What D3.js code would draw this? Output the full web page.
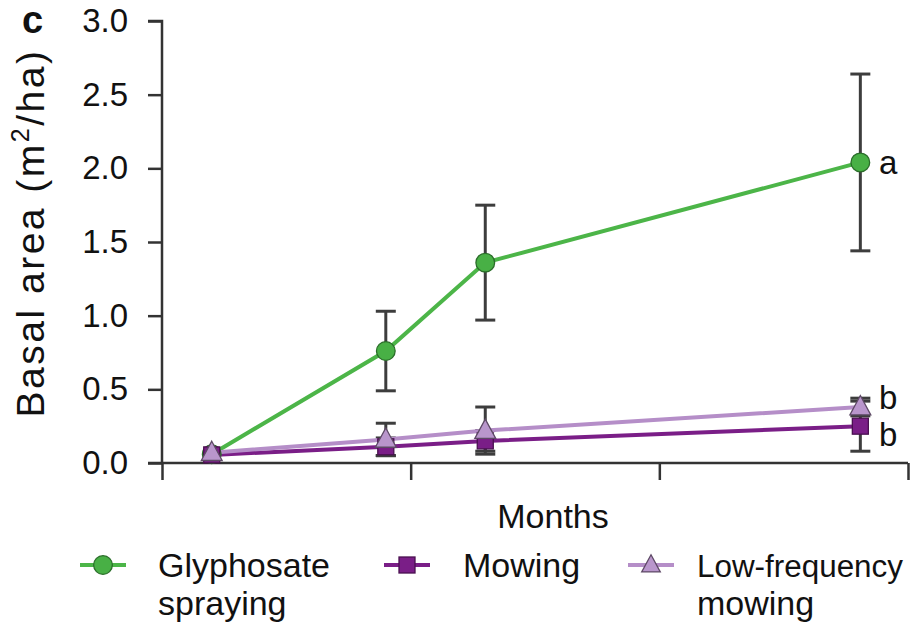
<!DOCTYPE html>
<html><head><meta charset="utf-8">
<script src="https://cdn.jsdelivr.net/npm/d3@7"></script>
<style>body{margin:0;background:#fff}svg{display:block}text{font-family:"Liberation Sans",Arial,sans-serif;fill:#111}</style>
</head><body><svg id="c" width="912" height="626"></svg>
<script>
const months = [2.4, 10.8, 15.6, 33.7];
const glyphosate = [0.06, 0.76, 1.36, 2.04];
const glyphosateErr = [0.0, 0.27, 0.39, 0.60];
const mowing = [0.055, 0.11, 0.15, 0.25];
const mowingErr = [0.0, 0.06, 0.07, 0.17];
const lowFreq = [0.07, 0.16, 0.22, 0.38];
const lowFreqErr = [0.0, 0.11, 0.16, 0.06];
const yTicks = [0, 0.5, 1.0, 1.5, 2.0, 2.5, 3.0];
const xTicks = [0, 12, 24, 36];
const letters = [{s:"glyphosate", t:"a", dy:0}, {s:"lowFreq", t:"b", dy:-10}, {s:"mowing", t:"b", dy:8}];

const svg = d3.select("#c");
const x = d3.scaleLinear().domain([0, 36]).range([162, 908]);
const y = d3.scaleLinear().domain([0, 3]).range([463, 21]);

const errColor = "#3d3d3d";
const series = [
  {key:"glyphosate", vals:glyphosate, err:glyphosateErr, color:"#4cb548", fill:"#48b045", stroke:"#2b6e2a", shape:"circle", name:["Glyphosate","spraying"]},
  {key:"mowing", vals:mowing, err:mowingErr, color:"#7a1e87", fill:"#7a1e87", stroke:"#4a1050", shape:"square", name:["Mowing"]},
  {key:"lowFreq", vals:lowFreq, err:lowFreqErr, color:"#b58ec8", fill:"#b996cc", stroke:"#5e4a66", shape:"triangle", name:["Low-frequency","mowing"]}
];

// axes
const yAxis = d3.axisLeft(y).tickValues(yTicks).tickFormat(d3.format(".1f")).tickSize(14).tickPadding(20);
const gy = svg.append("g").attr("transform", "translate(162,0)").call(yAxis);
const xAxis = d3.axisBottom(x).tickValues(xTicks).tickFormat("").tickSize(17);
const gx = svg.append("g").attr("transform", "translate(0,463)").call(xAxis);
gx.select(".domain").attr("d", "M162,0H908");
gy.select(".domain").attr("d", "M-14,21H0V463H-14");
svg.selectAll(".domain,.tick line").attr("stroke", "#333").attr("stroke-width", 2.5);
gy.selectAll(".tick text").style("font-size", "33px").attr("fill", "#111").style("font-family", "Liberation Sans, Arial, sans-serif");

// axis labels
svg.append("text").attr("x", 553).attr("y", 528).attr("text-anchor", "middle").style("font-size", "34px").text("Months");
const yl = svg.append("text").attr("transform", "translate(44,233) rotate(-90)").attr("text-anchor", "middle").style("font-size", "39px").style("letter-spacing", "2.5px");
yl.append("tspan").text("Basal area (m");
yl.append("tspan").attr("dy", -15).style("font-size", "25px").text("2");
yl.append("tspan").attr("dy", 15).text("/ha)");
svg.append("text").attr("x", 22).attr("y", 33).style("font-size", "38px").style("font-weight", "bold").text("c");

// error bars
const errG = svg.append("g");
series.forEach(s => {
  s.vals.forEach((v, i) => {
    const e = s.err[i];
    if (e <= 0) return;
    const cx = x(months[i]);
    errG.append("line").attr("x1", cx).attr("x2", cx).attr("y1", y(v - e)).attr("y2", y(v + e)).attr("stroke", errColor).attr("stroke-width", 3);
    [v - e, v + e].forEach(t => errG.append("line").attr("x1", cx - 10).attr("x2", cx + 10).attr("y1", y(t)).attr("y2", y(t)).attr("stroke", errColor).attr("stroke-width", 3));
  });
});

// lines
const line = d3.line().x((d, i) => x(months[i])).y(d => y(d));
series.forEach(s => {
  svg.append("path").attr("d", line(s.vals)).attr("fill", "none").attr("stroke", s.color).attr("stroke-width", 4);
});

function marker(g, shape, cx, cy, s, size) {
  if (shape === "circle") {
    g.append("circle").attr("cx", cx).attr("cy", cy).attr("r", size * 0.55).attr("fill", s.fill).attr("stroke", s.stroke).attr("stroke-width", 1.3);
  } else if (shape === "square") {
    const h = size * 0.5;
    g.append("rect").attr("x", cx - h).attr("y", cy - h).attr("width", 2 * h).attr("height", 2 * h).attr("fill", s.fill).attr("stroke", s.stroke).attr("stroke-width", 1.3);
  } else {
    const h = size * 0.58;
    g.append("path").attr("d", `M${cx},${cy - h * 1.1}L${cx + h},${cy + h * 0.75}L${cx - h},${cy + h * 0.75}Z`).attr("fill", s.fill).attr("stroke", s.stroke).attr("stroke-width", 1.3);
  }
}
const mg = svg.append("g");
series.forEach(s => {
  s.vals.forEach((v, i) => marker(mg, s.shape, x(months[i]), y(v), s, s.shape === "circle" ? 17 : s.shape === "square" ? 16 : 18));
});

// significance letters
letters.forEach(l => {
  const s = series.find(d => d.key === l.s);
  svg.append("text").attr("x", 879).attr("y", y(s.vals[3]) + l.dy).attr("dy", "0.35em").style("font-size", "33px").text(l.t);
});

// legend
const legendPos = [{key:"glyphosate", lx:80, tx:158}, {key:"mowing", lx:384, tx:463}, {key:"lowFreq", lx:628, tx:697}];
legendPos.forEach(p => {
  const s = series.find(d => d.key === p.key);
  const g = svg.append("g");
  g.append("line").attr("x1", p.lx).attr("x2", p.lx + 46).attr("y1", 565).attr("y2", 565).attr("stroke", s.color).attr("stroke-width", 4);
  marker(g, s.shape, p.lx + 23, 565, s, s.shape === "circle" ? 17 : s.shape === "square" ? 16 : 16);
  s.name.forEach((t, j) => {
    const tx = g.append("text").attr("x", p.tx).attr("y", 577 + j * 38).style("font-size", "34px").text(t);
    if (t === "Low-frequency") tx.style("font-size", "31px").attr("textLength", 206).attr("lengthAdjust", "spacingAndGlyphs");
  });
});
</script></body></html>
